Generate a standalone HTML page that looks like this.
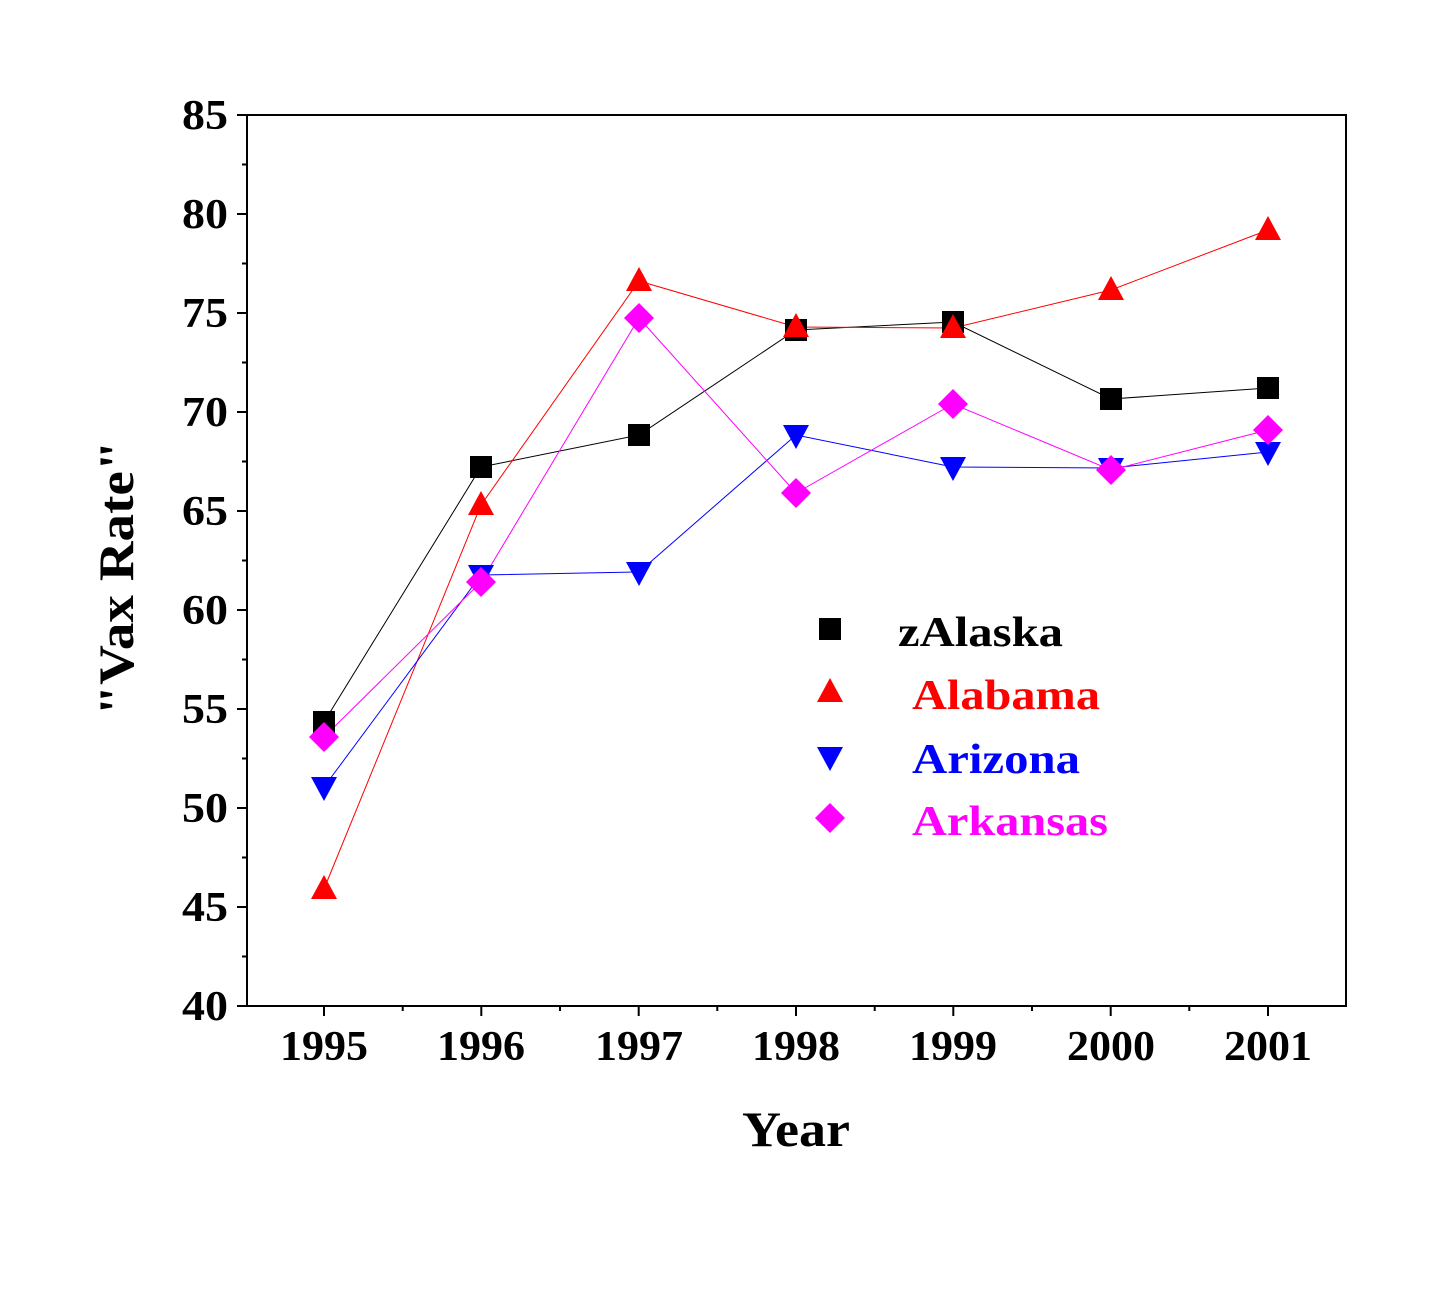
<!DOCTYPE html>
<html><head><meta charset="utf-8"><style>body{margin:0;background:#fff}</style></head><body>
<svg width="1430" height="1289" viewBox="0 0 1430 1289" xmlns="http://www.w3.org/2000/svg" font-family="Liberation Serif, serif" font-weight="bold">
<rect width="1430" height="1289" fill="#fff"/>
<g stroke="#000" stroke-width="2">
<rect x="247" y="115" width="1099" height="891" fill="none"/>
<path d="M237 115H247M237 214H247M237 313H247M237 412H247M237 511H247M237 610H247M237 709H247M237 808H247M237 907H247M237 1006H247"/>
<path d="M242 164.5H247M242 263.5H247M242 362.5H247M242 461.5H247M242 560.5H247M242 659.5H247M242 758.5H247M242 857.5H247M242 956.5H247"/>
<path d="M324 1006V1016M481.3 1006V1016M638.7 1006V1016M796 1006V1016M953.3 1006V1016M1110.7 1006V1016M1268 1006V1016"/>
<path d="M402.7 1006V1011M560 1006V1011M717.3 1006V1011M874.7 1006V1011M1032 1006V1011M1189.3 1006V1011"/>
</g>
<g font-size="42" text-anchor="end" lengthAdjust="spacingAndGlyphs">
<text x="228" y="129" textLength="46" lengthAdjust="spacingAndGlyphs">85</text><text x="228" y="228" textLength="46" lengthAdjust="spacingAndGlyphs">80</text><text x="228" y="327" textLength="46" lengthAdjust="spacingAndGlyphs">75</text><text x="228" y="426" textLength="46" lengthAdjust="spacingAndGlyphs">70</text><text x="228" y="525" textLength="46" lengthAdjust="spacingAndGlyphs">65</text><text x="228" y="624" textLength="46" lengthAdjust="spacingAndGlyphs">60</text><text x="228" y="723" textLength="46" lengthAdjust="spacingAndGlyphs">55</text><text x="228" y="822" textLength="46" lengthAdjust="spacingAndGlyphs">50</text><text x="228" y="921" textLength="46" lengthAdjust="spacingAndGlyphs">45</text><text x="228" y="1020" textLength="46" lengthAdjust="spacingAndGlyphs">40</text>
</g>
<g font-size="42" text-anchor="middle">
<text x="324" y="1060" textLength="88" lengthAdjust="spacingAndGlyphs">1995</text><text x="481" y="1060" textLength="88" lengthAdjust="spacingAndGlyphs">1996</text><text x="639" y="1060" textLength="88" lengthAdjust="spacingAndGlyphs">1997</text><text x="796" y="1060" textLength="88" lengthAdjust="spacingAndGlyphs">1998</text><text x="953" y="1060" textLength="88" lengthAdjust="spacingAndGlyphs">1999</text><text x="1111" y="1060" textLength="88" lengthAdjust="spacingAndGlyphs">2000</text><text x="1268" y="1060" textLength="88" lengthAdjust="spacingAndGlyphs">2001</text>
<text x="796" y="1146" font-size="50" textLength="108" lengthAdjust="spacingAndGlyphs">Year</text>
<text transform="translate(133 578) rotate(-90)" font-size="50" textLength="275" lengthAdjust="spacingAndGlyphs">"Vax Rate"</text>
</g>
<g fill="none" stroke-width="1">
<polyline stroke="#000" points="324,722 481,467 639,435 796,330 953,322 1111,399 1268,388"/>
<polyline stroke="#f00" points="324,889 481,505 639,281 796,327 953,328 1111,290 1268,230"/>
<polyline stroke="#00f" points="324,787 481,575 639,572 796,435 953,467 1111,468 1268,452"/>
<polyline stroke="#f0f" points="324,737 481,582 639,318 796,493 953,404 1111,470 1268,430"/>
</g>
<defs>
<rect id="sq" x="-11" y="-11" width="22" height="22" fill="#000"/>
<polygon id="tu" points="0,-14 13,10 -13,10" fill="#f00"/>
<polygon id="td" points="0,14 13,-10 -13,-10" fill="#00f"/>
<polygon id="di" points="0,-15 15,0 0,15 -15,0" fill="#f0f"/>
</defs>
<g>
<use href="#sq" x="324" y="722"/><use href="#sq" x="481" y="467"/><use href="#sq" x="639" y="435"/><use href="#sq" x="796" y="330"/><use href="#sq" x="953" y="322"/><use href="#sq" x="1111" y="399"/><use href="#sq" x="1268" y="388"/>
<use href="#tu" x="324" y="889"/><use href="#tu" x="481" y="505"/><use href="#tu" x="639" y="281"/><use href="#tu" x="796" y="327"/><use href="#tu" x="953" y="328"/><use href="#tu" x="1111" y="290"/><use href="#tu" x="1268" y="230"/>
<use href="#td" x="324" y="787"/><use href="#td" x="481" y="575"/><use href="#td" x="639" y="572"/><use href="#td" x="796" y="435"/><use href="#td" x="953" y="467"/><use href="#td" x="1111" y="468"/><use href="#td" x="1268" y="452"/>
<use href="#di" x="324" y="737"/><use href="#di" x="481" y="582"/><use href="#di" x="639" y="318"/><use href="#di" x="796" y="493"/><use href="#di" x="953" y="404"/><use href="#di" x="1111" y="470"/><use href="#di" x="1268" y="430"/>
<use href="#sq" x="830" y="629"/><use href="#tu" x="830" y="692"/><use href="#td" x="830" y="757"/><use href="#di" x="830" y="818"/>
</g>
<g font-size="42">
<text x="898" y="646" fill="#000" textLength="165" lengthAdjust="spacingAndGlyphs">zAlaska</text>
<text x="912" y="709" fill="#f00" textLength="188" lengthAdjust="spacingAndGlyphs">Alabama</text>
<text x="912" y="773" fill="#00f" textLength="168" lengthAdjust="spacingAndGlyphs">Arizona</text>
<text x="912" y="835" fill="#f0f" textLength="196" lengthAdjust="spacingAndGlyphs">Arkansas</text>
</g>
</svg>
</body></html>
